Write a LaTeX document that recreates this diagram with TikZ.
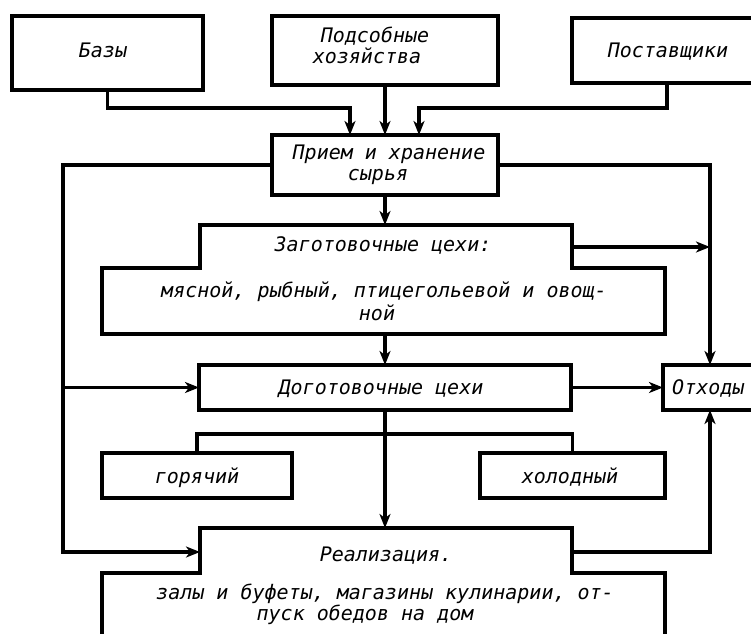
\documentclass[tikz,border=0pt]{standalone}
\usepackage{fontspec}
\newfontfamily\dfont{DejaVu Sans Mono}
\usetikzlibrary{arrows.meta}
\begin{document}
\begin{tikzpicture}[x=1pt,y=-1pt,
  ln/.style={line width=3.5pt, line join=miter},
  arr/.style={ln, -{Stealth[length=14pt,width=11pt,inset=4pt]}},
  box/.style={draw, line width=3.5pt, rectangle, inner sep=0pt, outer sep=0pt},
  txt/.style={font=\dfont\itshape\fontsize{20}{20}\selectfont, inner sep=0pt, anchor=base}]
\clip (0,0) rectangle (751,633);
\fill[white] (0,0) rectangle (751,633);

% boxes
\node[box, minimum width=191pt, minimum height=74pt] (bazy) at (107.5,53) {};
\node[box, minimum width=226pt, minimum height=69pt] (pods) at (385,50.5) {};
\node[box, minimum width=190pt, minimum height=65pt] (post) at (667,50.5) {};
\node[box, minimum width=226pt, minimum height=60pt] (priem) at (385,165) {};
\node[box, minimum width=372pt, minimum height=45pt] (dog) at (385,387.5) {};
\node[box, minimum width=104pt, minimum height=45pt] (otx) at (715,387.5) {};
\node[box, minimum width=190pt, minimum height=45pt] (gor) at (197,475.5) {};
\node[box, minimum width=185pt, minimum height=45pt] (hol) at (572.5,475.5) {};

% stepped shapes
\draw[ln] (200,225) -- (572,225) -- (572,268) -- (665,268) -- (665,334)
  -- (102,334) -- (102,268) -- (200,268) -- cycle;
\draw[ln] (200,528) -- (572,528) -- (572,573) -- (665,573) -- (665,650)
  -- (102,650) -- (102,573) -- (200,573) -- cycle;

% texts
\node[txt] (tbazy) at (103,57) {Базы};
\node[txt] (tpods1) at (375,42) {Подсобные};
\node[txt] (tpods2) at (367,63) {хозяйства};
\node[txt] (tpost) at (668,57) {Поставщики};
\node[txt] (tpr1) at (389,159) {Прием и хранение};
\node[txt] (tpr2) at (378,180) {сырья};
\node[txt] (tzag1) at (383,251) {Заготовочные цехи:};
\node[txt] (tzag2) at (384,297) {мясной, рыбный, птицегольевой и овощ-};
\node[txt] (tzag3) at (377,320) {ной};
\node[txt] (tdog) at (381,394) {Доготовочные цехи};
\node[txt, anchor=base west] (totx) at (672,394) {Отходы};
\node[txt] (tgor) at (197,483) {горячий};
\node[txt] (thol) at (570,483) {холодный};
\node[txt] (tre1) at (386,561) {Реализация.};
\node[txt] (tre2) at (385,599) {залы и буфеты, магазины кулинарии, от-};
\node[txt] (tre3) at (365,620) {пуск обедов на дом};

% named points
\coordinate (j1) at (350,108);
\coordinate (j2) at (419,108);
\coordinate (zagtop) at (385,225);
\coordinate (zagbot) at (385,334);
\coordinate (zr) at (572,247);
\coordinate (zrj) at (710,247);
\coordinate (otn) at (710,365);
\coordinate (ots) at (710,410);
\coordinate (lc) at (63,552);
\coordinate (lm) at (63,387.5);
\coordinate (rl) at (200,552);
\coordinate (rr) at (572,552);
\coordinate (realtop) at (385,528);
\coordinate (hb) at (385,434);

% connectors
\draw[arr] (bazy.south) |- (j1) -- (j1 |- priem.north);
\draw[arr] (pods.south) -- (priem.north);
\draw[arr] (post.south) |- (j2) -- (j2 |- priem.north);
\draw[arr] (priem.west) -| (lc) -- (rl);
\draw[arr] (lm) -- (dog.west);
\draw[arr] (priem.east) -| (otn);
\draw[arr] (priem.south) -- (zagtop);
\draw[arr] (zr) -- (zrj);
\draw[arr] (zagbot) -- (dog.north);
\draw[arr] (dog.east) -- (otx.west);
\draw[arr] (dog.south) -- (realtop);
\draw[ln] (gor.north) |- (hb) -| (hol.north);
\draw[arr] (rr) -| (ots);
\end{tikzpicture}
\end{document}
